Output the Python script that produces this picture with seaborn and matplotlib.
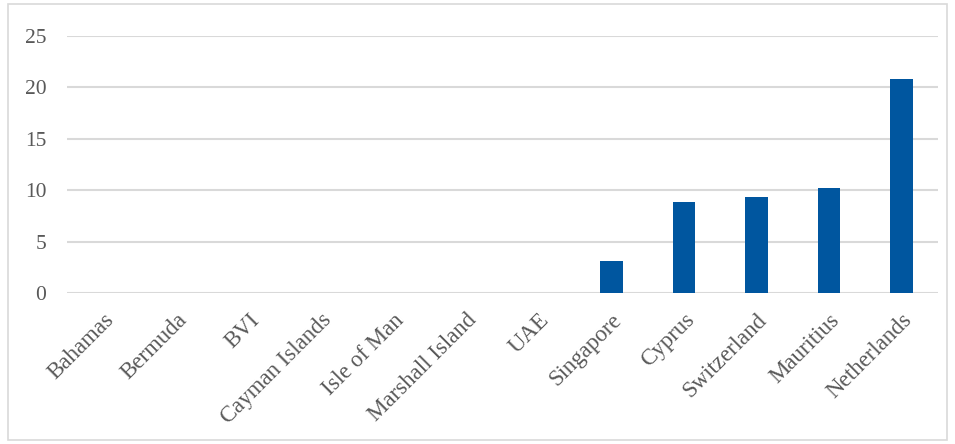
import matplotlib.pyplot as plt
import matplotlib.patches as mpatches
import pandas as pd
import seaborn as sns

# values
countries = ['Bahamas', 'Bermuda', 'BVI', 'Cayman Islands', 'Isle of Man',
             'Marshall Island', 'UAE', 'Singapore', 'Cyprus', 'Switzerland',
             'Mauritius', 'Netherlands']
values = [0, 0, 0, 0, 0, 0, 0, 3.1, 8.85, 9.35, 10.25, 20.8]
yticks = [0, 5, 10, 15, 20, 25]

df = pd.DataFrame({'country': countries, 'value': values})

sns.set_style('white')
plt.rcParams['font.family'] = ['Liberation Serif', 'DejaVu Serif']

fig = plt.figure(figsize=(9.55, 4.44), dpi=100)
ax = fig.add_axes([0.0702, 0.340, 0.912, 0.579])

sns.barplot(data=df, x='country', y='value', color='#00569F', saturation=1,
            width=0.31, linewidth=0, ax=ax)

ax.set_ylim(0, 25)
ax.set_xlim(-0.5, len(countries) - 0.5)
ax.set_yticks(yticks)
ax.yaxis.grid(True, color='#d9d9d9', linewidth=1.5)
ax.set_axisbelow(True)
for s in ax.spines.values():
    s.set_visible(False)
ax.set_xlabel('')
ax.set_ylabel('')
ax.tick_params(axis='y', length=0, pad=15, labelsize=15.5, labelcolor='#595959')
ax.tick_params(axis='x', length=0, pad=12, labelsize=16.5, labelcolor='#595959')
plt.setp(ax.get_xticklabels(), rotation=45, ha='right', va='top',
         rotation_mode='anchor')

# light frame around the whole chart
fig.patches.append(mpatches.Rectangle((0.008, 0.008), 0.984, 0.982,
                                      transform=fig.transFigure, fill=False,
                                      edgecolor='#d9d9d9', linewidth=1.2))

fig.savefig('out.png', dpi=100)
